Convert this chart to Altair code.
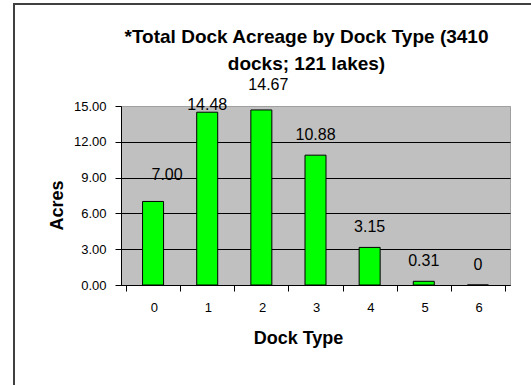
import altair as alt
import pandas as pd

dock_types = [0, 1, 2, 3, 4, 5, 6]
acres = [7.00, 14.48, 14.67, 10.88, 3.15, 0.31, 0.0]
labels = ["7.00", "14.48", "14.67", "10.88", "3.15", "0.31", "0"]
y_ticks = [0, 3, 6, 9, 12, 15]
x_ticks = [-0.5, 0.5, 1.5, 2.5, 3.5, 4.5, 5.5, 6.5]

df = pd.DataFrame({"type": dock_types, "acres": acres, "label": labels})

W, H = 389, 179
FONT = "Liberation Sans"

x = alt.X(
    "type:Q",
    scale=alt.Scale(domain=[-0.5, 6.5], nice=False, zero=False),
    axis=alt.Axis(
        values=x_ticks,
        labelExpr="datum.value < 6 ? format(datum.value + 0.5, 'd') : ''",
        labelOffset=W / 7 / 2,
        labelOverlap=False,
        grid=False,
        tickSize=6,
        tickColor="black",
        domainColor="black",
        labelColor="black",
        labelFont=FONT,
        labelFontSize=13,
        labelPadding=10,
        title="Dock Type",
        titleFont=FONT,
        titleFontSize=18,
        titleFontWeight="bold",
        titleColor="black",
        titleX=177,
        titleY=53,
        titleBaseline="middle",
    ),
)
y = alt.Y(
    "acres:Q",
    scale=alt.Scale(domain=[0, 15], nice=False),
    axis=alt.Axis(
        values=y_ticks,
        format=".2f",
        labelOverlap=False,
        grid=True,
        gridColor={"condition": {"test": "datum.value >= 15", "value": "#a0a0a0"}, "value": "black"},
        gridWidth=1,
        tickSize=6,
        tickColor="black",
        domainColor="black",
        labelColor="black",
        labelFont=FONT,
        labelFontSize=13,
        labelPadding=9,
        title="Acres",
        titleFont=FONT,
        titleFontSize=18,
        titleFontWeight="bold",
        titleColor="black",
        titleX=-64,
        titleY=99,
        titleBaseline="middle",
        titleAngle=270,
    ),
)

base = alt.Chart(df)

bars = base.mark_bar(size=21, color="#00ff00", stroke="black", strokeWidth=1).encode(x=x, y=y)

txt_style = dict(font=FONT, fontSize=16, color="black", baseline="middle", align="center")
t_default = base.transform_filter("datum.type >= 3").mark_text(dy=-20, **txt_style).encode(x=x, y=y, text="label:N")
t0 = base.transform_filter("datum.type == 0").mark_text(dx=14, dy=-26, **txt_style).encode(x=x, y=y, text="label:N")
t1 = base.transform_filter("datum.type == 1").mark_text(dy=-7, **txt_style).encode(x=x, y=y, text="label:N")
t2 = base.transform_filter("datum.type == 2").mark_text(dx=7, dy=-25, **txt_style).encode(x=x, y=y, text="label:N")

one = alt.Data(values=[{}])
frame_left = alt.Chart(one).mark_rule(stroke="#404040", strokeWidth=2).encode(
    x=alt.value(14 - 121), y=alt.value(3 - 106), y2=alt.value(385 - 106)
)
frame_top = alt.Chart(one).mark_rule(stroke="#404040", strokeWidth=2).encode(
    x=alt.value(13 - 121), x2=alt.value(531 - 121), y=alt.value(4 - 106)
)

chart = alt.layer(bars, t_default, t0, t1, t2, frame_left, frame_top).properties(
    width=W,
    height=H,
    background="white",
    autosize=alt.AutoSizeParams(type="none"),
    padding={"left": 121, "top": 106, "right": 21, "bottom": 100},
    title=alt.TitleParams(
        text=["*Total Dock Acreage by Dock Type (3410", "docks; 121 lakes)"],
        font=FONT,
        fontSize=19,
        fontWeight="bold",
        color="black",
        anchor="middle",
        frame="group",
        baseline="top",
        dx=-9,
        dy=72,
        offset=0,
        lineHeight=27,
    ),
).configure_view(
    fill="#c0c0c0", stroke="#a0a0a0", strokeWidth=1
)

chart.save("out.html", embed_options={"renderer": "svg", "actions": False})
